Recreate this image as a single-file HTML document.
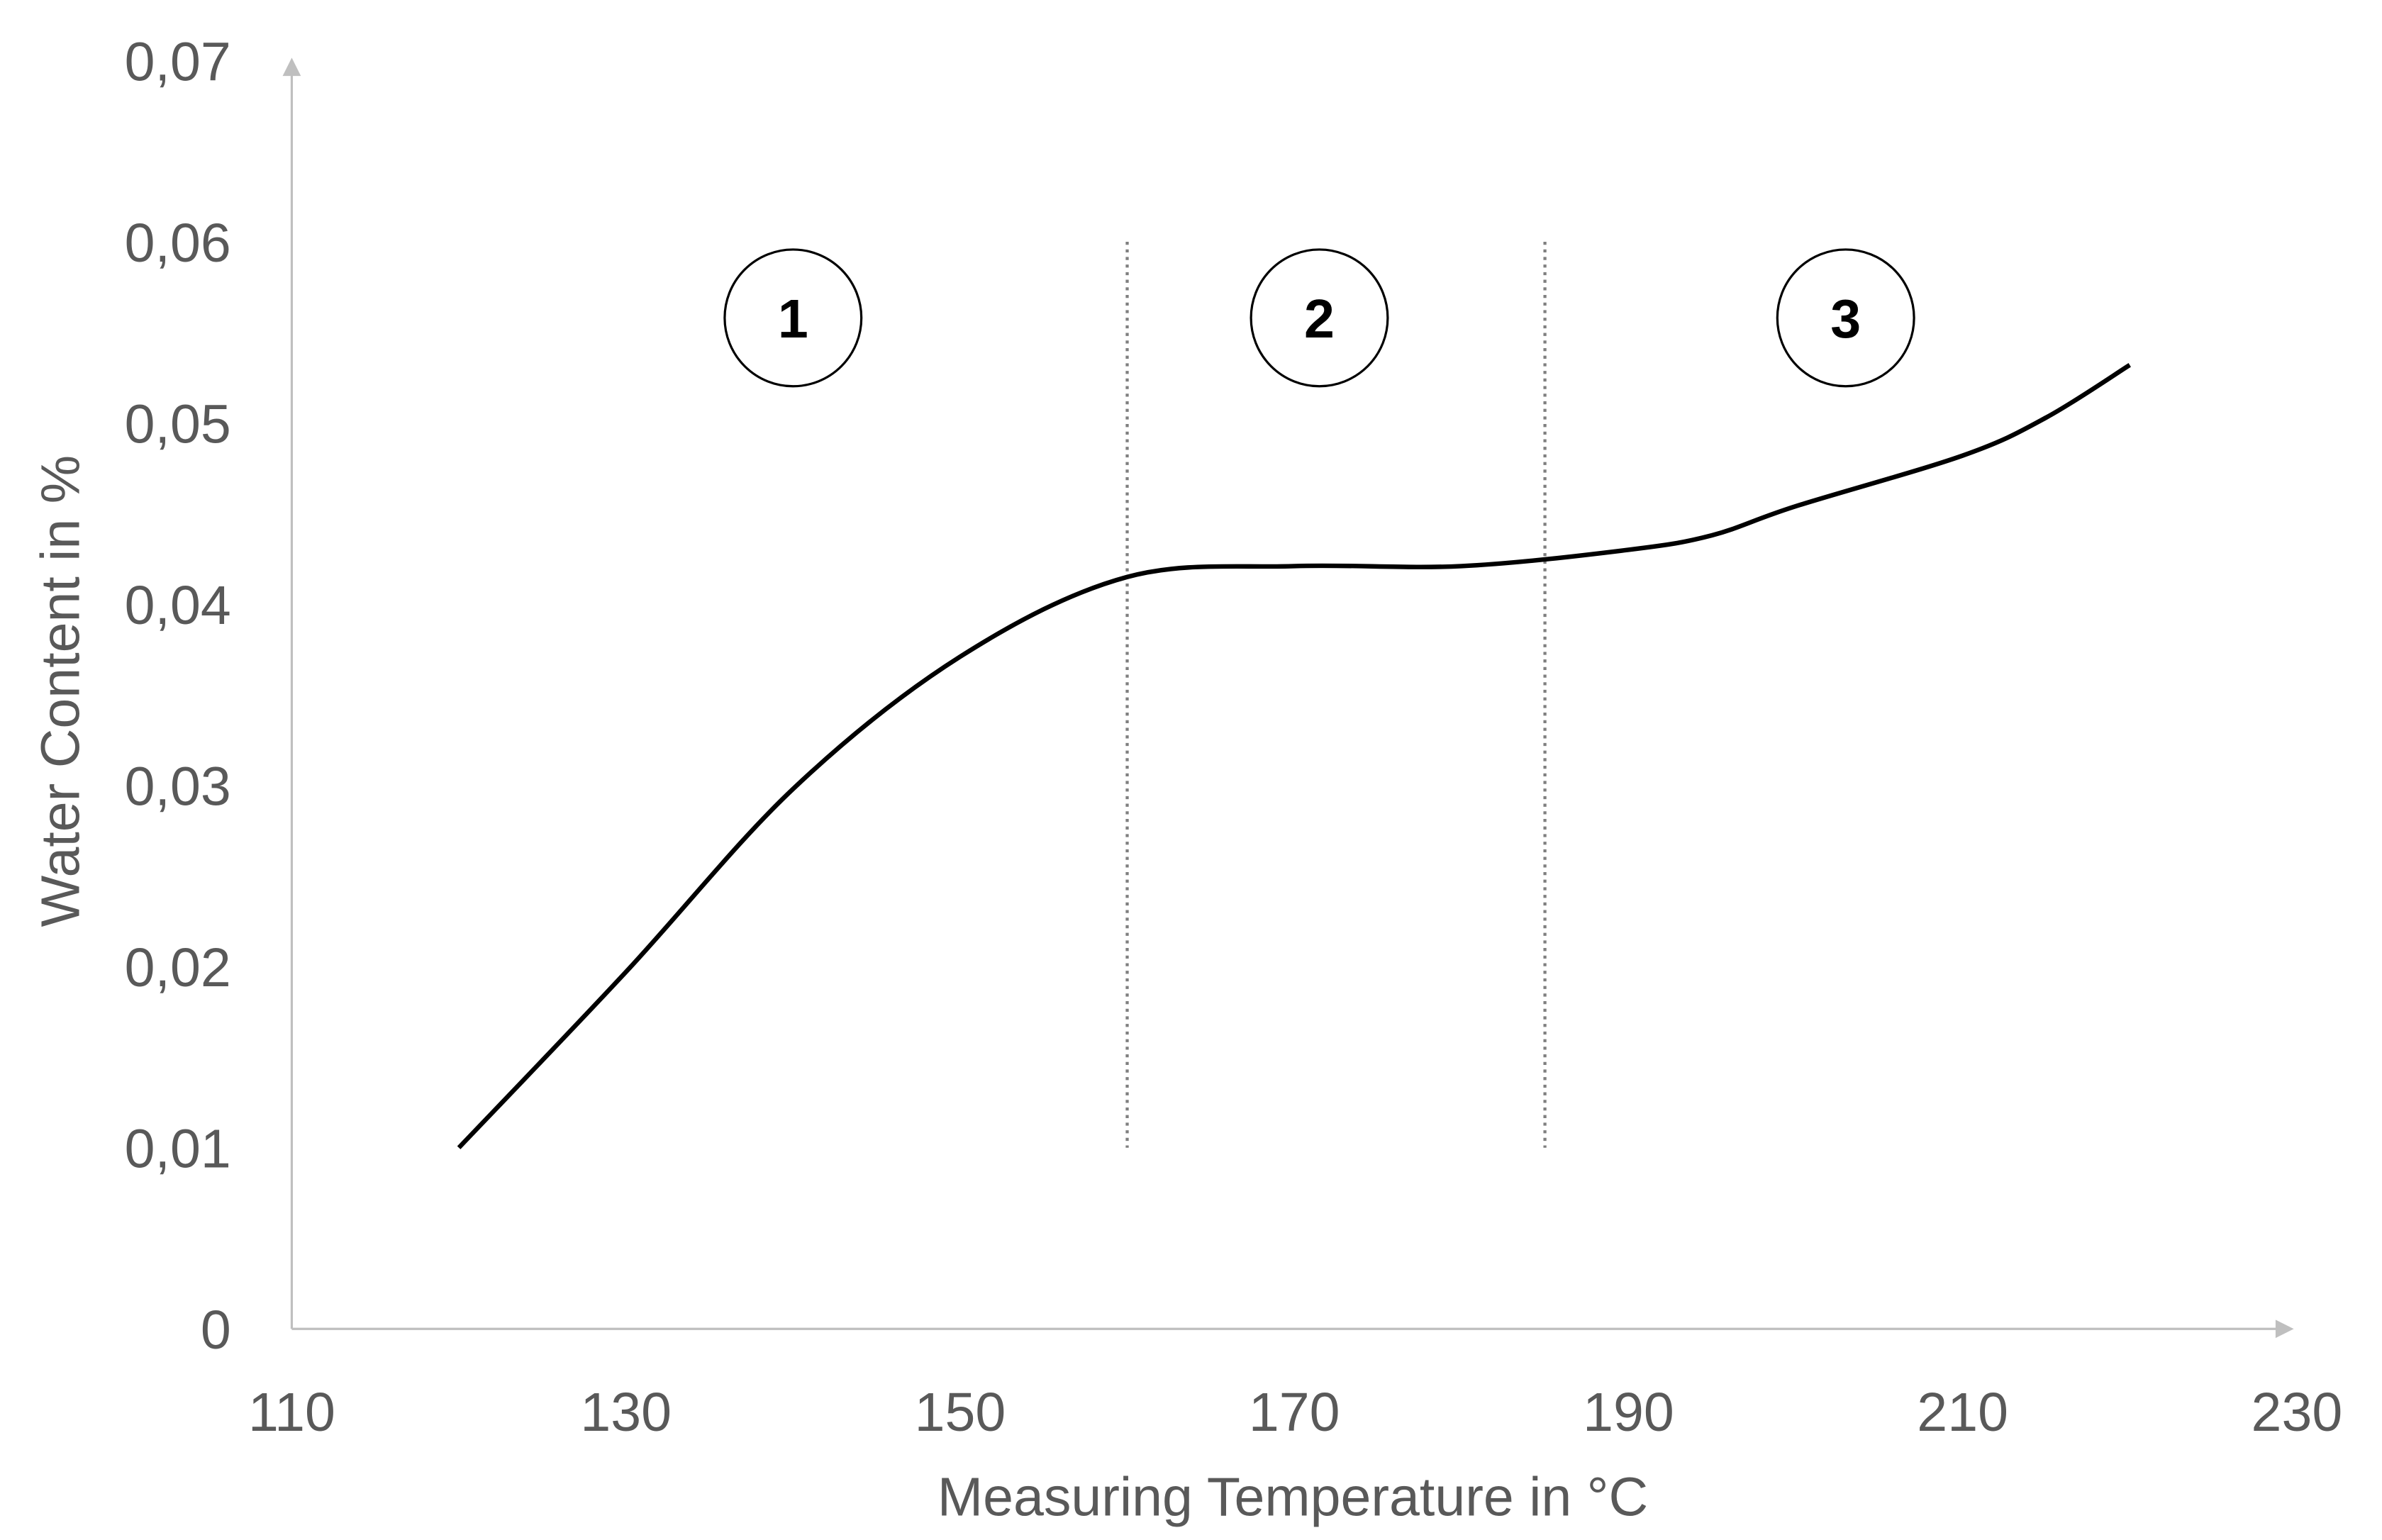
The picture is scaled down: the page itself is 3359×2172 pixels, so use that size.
<!DOCTYPE html>
<html><head><meta charset="utf-8"><style>
html,body{margin:0;padding:0;background:#fff;}
svg{display:block;}
text{font-family:"Liberation Sans",sans-serif;}
</style></head><body>
<svg id="chart" width="3359" height="2172" viewBox="0 0 1568 1014" xmlns="http://www.w3.org/2000/svg">
<g id="axes"></g>
<g id="marks"></g>
<text transform="translate(52,455) rotate(-90)" text-anchor="middle" font-size="36" fill="#595959">Water Content in %</text>
<text x="851" y="998" text-anchor="middle" font-size="36" fill="#595959">Measuring Temperature in °C</text>
</svg>
<script>
const xTicks=[110,130,150,170,190,210,230];
const yTicks=[0,0.01,0.02,0.03,0.04,0.05,0.06,0.07];
const yTickLabels=["0","0,01","0,02","0,03","0,04","0,05","0,06","0,07"];
const temps=[120,130,140,150,160,170,180,190,195,200,210,215,220];
const water=[0.010,0.0197,0.0298,0.0371,0.0415,0.0421,0.0421,0.0430,0.0438,0.0454,0.0482,0.0503,0.0532];
const regionBounds=[160,185];
const regionLabels=["1","2","3"];
const regionCenters=[140,171.5,203];
const regionY=0.0558;

const NS="http://www.w3.org/2000/svg";
const X=v=>192+(v-110)*11;
const Y=v=>875-v*11930;
function mk(tag,attrs,parent){const e=document.createElementNS(NS,tag);for(const k in attrs)e.setAttribute(k,attrs[k]);parent.appendChild(e);return e;}
const axes=document.getElementById('axes'),marks=document.getElementById('marks');

let a=mk('line',{x1:192,y1:875,x2:1500,y2:875,stroke:'#bfbfbf','stroke-width':1.5},axes);


a=mk('polygon',{points:'1510,875 1498,869 1498,881',fill:'#bfbfbf'},axes);


a=mk('line',{x1:192,y1:875,x2:192,y2:48,stroke:'#bfbfbf','stroke-width':1.5},axes);


a=mk('polygon',{points:'192,38 186,50 198,50',fill:'#bfbfbf'},axes);



xTicks.forEach(t=>{const e=mk('text',{x:X(t),y:942,'text-anchor':'middle','font-size':36,fill:'#595959'},axes);e.textContent=t;

});
yTicks.forEach((t,i)=>{const e=mk('text',{x:152,y:Y(t)+13,'text-anchor':'end','font-size':36,fill:'#595959'},axes);e.textContent=yTickLabels[i];

});

regionBounds.forEach(b=>{const e=mk('line',{x1:X(b),y1:Y(0.06),x2:X(b),y2:Y(0.01),stroke:'#7f7f7f','stroke-width':2,'stroke-dasharray':'2,3'},marks);

});

regionCenters.forEach((c,i)=>{const g=mk('g',{},marks);


mk('circle',{cx:X(c),cy:Y(regionY),r:45,fill:'#fff',stroke:'#000','stroke-width':1.5},g);
const t=mk('text',{x:X(c),y:Y(regionY)+13,'text-anchor':'middle','font-size':36,'font-weight':'bold',fill:'#000'},g);t.textContent=regionLabels[i];});

const pts=temps.map((t,i)=>[X(t),Y(water[i])]);
let d='M'+pts[0][0]+','+pts[0][1];
for(let i=0;i<pts.length-1;i++){const p0=pts[Math.max(0,i-1)],p1=pts[i],p2=pts[i+1],p3=pts[Math.min(pts.length-1,i+2)];
const c1=[p1[0]+(p2[0]-p0[0])/6,p1[1]+(p2[1]-p0[1])/6],c2=[p2[0]-(p3[0]-p1[0])/6,p2[1]-(p3[1]-p1[1])/6];
d+=' C'+c1+' '+c2+' '+p2;}
const line=mk('path',{d:d,fill:'none',stroke:'#000','stroke-width':3},marks);


</script>
</body></html>
